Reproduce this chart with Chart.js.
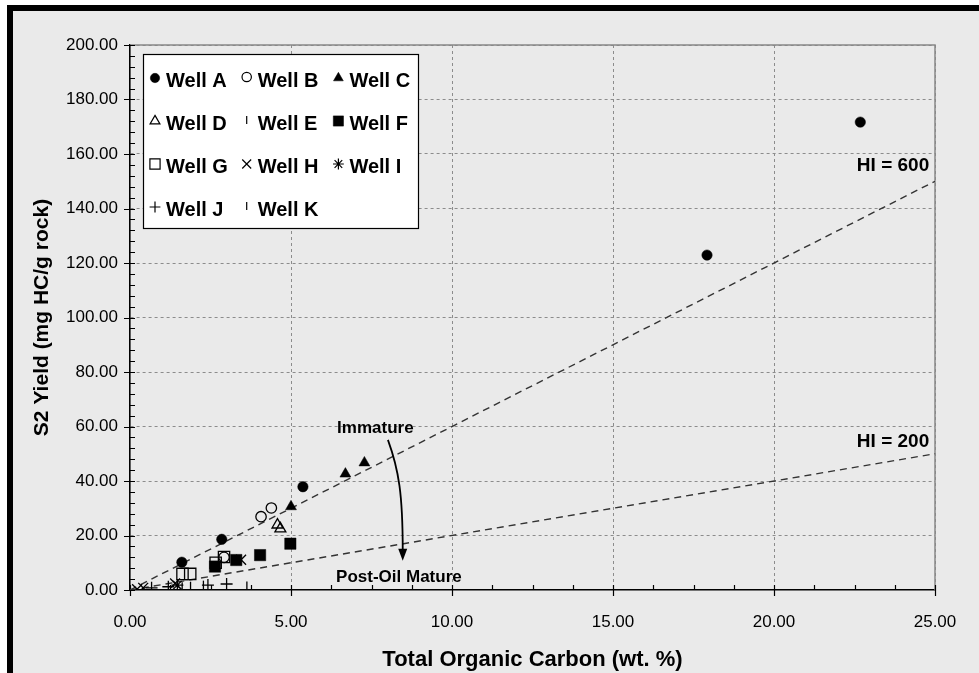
<!DOCTYPE html>
<html>
<head>
<meta charset="utf-8">
<script src="https://cdn.jsdelivr.net/npm/chart.js@4.4.1/dist/chart.umd.min.js"></script>
<style>
  html, body { margin: 0; padding: 0; background: #fff; }
  #chart { display: block; }
</style>
</head>
<body>
<canvas id="chart" width="979" height="673" style="width:979px;height:673px"></canvas>
<script>
// Rock-Eval: S2 vs TOC, one series per well
const wellNames = ['Well A', 'Well B', 'Well C', 'Well D', 'Well E', 'Well F',
                   'Well G', 'Well H', 'Well I', 'Well J', 'Well K'];

// [TOC wt.%, S2 mg HC/g rock]
const wellA = [[1.61, 10.2], [2.85, 18.6], [5.37, 37.9], [17.92, 122.9], [22.68, 171.7]];
const wellB = [[2.92, 12.0], [4.07, 26.9], [4.39, 30.1]];
const wellC = [[5.0, 30.6], [6.69, 42.6], [7.28, 46.7]];
const wellD = [[4.58, 23.9], [4.67, 22.5]];
const wellE = [[1.62, 1.0], [3.63, 1.3]];
const wellF = [[2.64, 8.6], [3.30, 11.0], [4.04, 12.8], [4.98, 17.0]];
const wellG = [[1.63, 5.9], [1.87, 5.9], [2.66, 10.0], [2.92, 12.1]];
const wellH = [[0.22, 0.3], [0.41, 0.8], [1.40, 2.4], [3.45, 11.1]];
const wellI = [[1.47, 1.8]];
const wellJ = [[0.67, 0.8], [1.19, 1.2], [2.42, 1.8], [3.0, 2.2]];
const wellK = [[1.88, 1.2], [2.28, 1.6]];
const wellData = [wellA, wellB, wellC, wellD, wellE, wellF, wellG, wellH, wellI, wellJ, wellK];

// hydrogen index reference lines
const hi600 = [[0, 0], [25, 150]];
const hi200 = [[0, 0], [25, 50]];

const xTicks = [0, 5, 10, 15, 20, 25];
const yTicks = [0, 20, 40, 60, 80, 100, 120, 140, 160, 180, 200];

const FONT = "'Liberation Sans', Arial, sans-serif";

// marker look per well (same order as wellNames)
const markers = [
  { style: 'circle', fill: true, r: 5.2 },
  { style: 'circle', fill: false, r: 5.2 },
  { style: 'triangle', fill: true, r: 6.3 },
  { style: 'triangle', fill: false, r: 6.3 },
  { style: 'line', fill: false, r: 5, rot: 90 },
  { style: 'rect', fill: true, r: 8 },
  { style: 'rect', fill: false, r: 8 },
  { style: 'crossRot', fill: false, r: 7 },
  { style: 'star', fill: false, r: 6 },
  { style: 'cross', fill: false, r: 6 },
  { style: 'line', fill: false, r: 5, rot: 90 }
];

const toPts = arr => arr.map(p => ({ x: p[0], y: p[1] }));

const wellSets = wellNames.map((name, i) => ({
  label: name,
  data: toPts(wellData[i]),
  pointStyle: markers[i].style,
  pointRadius: markers[i].r,
  pointHoverRadius: markers[i].r,
  pointRotation: markers[i].rot || 0,
  backgroundColor: markers[i].fill ? '#000' : 'rgba(0,0,0,0)',
  borderColor: '#000',
  borderWidth: markers[i].fill ? 0.5 : 1.3,
  order: 0
}));

const lineSets = [hi600, hi200].map((pts, i) => ({
  label: i === 0 ? 'HI = 600' : 'HI = 200',
  data: toPts(pts),
  showLine: true,
  pointRadius: 0,
  borderColor: '#333',
  borderWidth: 1.4,
  borderDash: [7, 5],
  order: 1
}));

// own marker drawing for the legend, in case helpers are not exposed
function drawMarker(ctx, m, x, y, r) {
  if (Chart.helpers && Chart.helpers.drawPoint) {
    Chart.helpers.drawPoint(ctx, { pointStyle: m.style, rotation: m.rot || 0, radius: r,
      borderWidth: m.fill ? 0.5 : 1.2 }, x, y);
    return;
  }
  ctx.beginPath();
  ctx.arc(x, y, r, 0, Math.PI * 2);
  if (m.fill) ctx.fill();
  ctx.stroke();
}

// background, frame, plot border, minor ticks, annotations, legend
const decor = {
  id: 'decor',
  beforeDraw(chart) {
    const { ctx, width, height } = chart;
    ctx.save();
    ctx.fillStyle = '#fff';
    ctx.fillRect(0, 0, width, height);
    ctx.fillStyle = '#eaeaea';
    ctx.fillRect(7, 5, width - 7, height - 5);
    ctx.fillStyle = '#000';
    ctx.fillRect(7, 5, width - 7, 6);
    ctx.fillRect(7, 5, 6, height - 5);
    ctx.restore();
  },
  beforeDatasetsDraw(chart) {
    const { ctx, chartArea: a, scales: { x, y } } = chart;
    ctx.save();
    // plot border top / right
    ctx.strokeStyle = '#888';
    ctx.lineWidth = 1.5;
    ctx.beginPath();
    ctx.moveTo(a.left, a.top);
    ctx.lineTo(a.right, a.top);
    ctx.lineTo(a.right, a.bottom);
    ctx.stroke();
    // ticks
    ctx.strokeStyle = '#000';
    ctx.lineWidth = 1.2;
    ctx.beginPath();
    for (let v = 0; v <= 200; v += 4) {
      const py = Math.round(y.getPixelForValue(v)) + 0.5;
      ctx.moveTo(a.left - (v % 20 === 0 ? 6 : 0), py);
      ctx.lineTo(a.left + 5, py);
    }
    for (let i = 0; i <= 20; i++) {
      const v = i * 1.25;
      const px = Math.round(x.getPixelForValue(v)) + 0.5;
      ctx.moveTo(px, a.bottom + (i % 4 === 0 ? 6 : 0));
      ctx.lineTo(px, a.bottom - 5);
    }
    ctx.stroke();
    ctx.restore();
  },
  afterDraw(chart) {
    const { ctx, scales: { x, y } } = chart;
    const px = v => x.getPixelForValue(v);
    const py = v => y.getPixelForValue(v);
    ctx.save();
    ctx.fillStyle = '#000';
    ctx.textBaseline = 'middle';

    ctx.font = 'bold 19px ' + FONT;
    ctx.textAlign = 'right';
    ctx.fillText('HI = 600', px(24.82), py(155.6));
    ctx.fillText('HI = 200', px(24.82), py(54.5));

    ctx.font = 'bold 17px ' + FONT;
    ctx.textAlign = 'center';
    ctx.fillText('Immature', px(7.62), py(59.4));
    ctx.textAlign = 'left';
    ctx.fillText('Post-Oil Mature', px(6.4), py(4.8));

    // curved arrow Immature -> Post-Oil Mature
    const sx = px(8.01), sy = py(55.1);
    const tx = px(8.47), ty = py(10.7);
    ctx.strokeStyle = '#000';
    ctx.lineWidth = 1.8;
    ctx.beginPath();
    ctx.moveTo(sx, sy);
    ctx.bezierCurveTo(sx + 11, sy + 30, tx, sy + 55, tx, ty - 10);
    ctx.stroke();
    ctx.beginPath();
    ctx.moveTo(tx - 4.5, ty - 12);
    ctx.lineTo(tx + 4.5, ty - 12);
    ctx.lineTo(tx, ty);
    ctx.closePath();
    ctx.fill();

    // legend
    const bx = 143, by = 54, bw = 275, bh = 174;
    ctx.fillStyle = '#fff';
    ctx.fillRect(bx, by, bw, bh);
    ctx.strokeStyle = '#000';
    ctx.lineWidth = 1.2;
    ctx.strokeRect(bx + 0.5, by + 0.5, bw, bh);
    ctx.font = 'bold 20px ' + FONT;
    ctx.textAlign = 'left';
    wellNames.forEach((name, i) => {
      const col = i % 3, row = Math.floor(i / 3);
      const mx = bx + 12 + col * 91.7;
      const my = by + 26 + row * 43;
      const m = markers[i];
      ctx.fillStyle = m.fill ? '#000' : 'rgba(0,0,0,0)';
      ctx.strokeStyle = '#000';
      ctx.lineWidth = m.fill ? 0.5 : 1.2;
      const off = m.style === 'line' ? -3 : (m.style === 'circle' && !m.fill ? -3 : -2);
      drawMarker(ctx, m, mx, my + off, m.style === 'line' ? 4 : m.r * 0.9);
      ctx.fillStyle = '#000';
      ctx.fillText(name, mx + 11, my + 1);
    });
    ctx.restore();
  }
};

const ctx = document.getElementById('chart').getContext('2d');
const chart = new Chart(ctx, {
  type: 'scatter',
  data: { datasets: [...wellSets, ...lineSets] },
  plugins: [decor],
  options: {
    responsive: false,
    animation: false,
    devicePixelRatio: 1,
    layout: { padding: { left: 0, top: 45, right: 44, bottom: 0 } },
    plugins: {
      legend: { display: false },
      tooltip: { enabled: false }
    },
    scales: {
      x: {
        type: 'linear',
        min: 0,
        max: 25,
        afterFit: s => { s.height = 83; },
        afterBuildTicks: s => { s.ticks = xTicks.map(v => ({ value: v })); },
        ticks: {
          padding: 22,
          color: '#000',
          font: { family: FONT, size: 17 },
          callback: v => Number(v).toFixed(2)
        },
        grid: {
          drawTicks: false,
          color: c => (c.tick && c.tick.value === 0) ? 'rgba(0,0,0,0)' : '#8c8c8c',
          lineWidth: 1
        },
        border: { color: '#000', width: 1.6, dash: [3, 3] },
        title: {
          display: true,
          text: 'Total Organic Carbon (wt. %)',
          color: '#000',
          font: { family: FONT, size: 22, weight: 'bold', lineHeight: 1 },
          padding: { top: 0, bottom: 2 }
        }
      },
      y: {
        type: 'linear',
        min: 0,
        max: 200,
        afterFit: s => { s.width = 130; },
        afterBuildTicks: s => { s.ticks = yTicks.map(v => ({ value: v })); },
        ticks: {
          padding: 12,
          color: '#000',
          font: { family: FONT, size: 17 },
          callback: v => Number(v).toFixed(2)
        },
        grid: {
          drawTicks: false,
          color: c => (c.tick && c.tick.value === 0) ? 'rgba(0,0,0,0)' : '#8c8c8c',
          lineWidth: 1
        },
        border: { color: '#000', width: 1.6, dash: [3, 3] },
        title: {
          display: true,
          text: 'S2 Yield (mg HC/g rock)',
          color: '#000',
          font: { family: FONT, size: 21, weight: 'bold', lineHeight: 1 },
          padding: { top: 32, bottom: 0 }
        }
      }
    }
  }
});
</script>
</body>
</html>
